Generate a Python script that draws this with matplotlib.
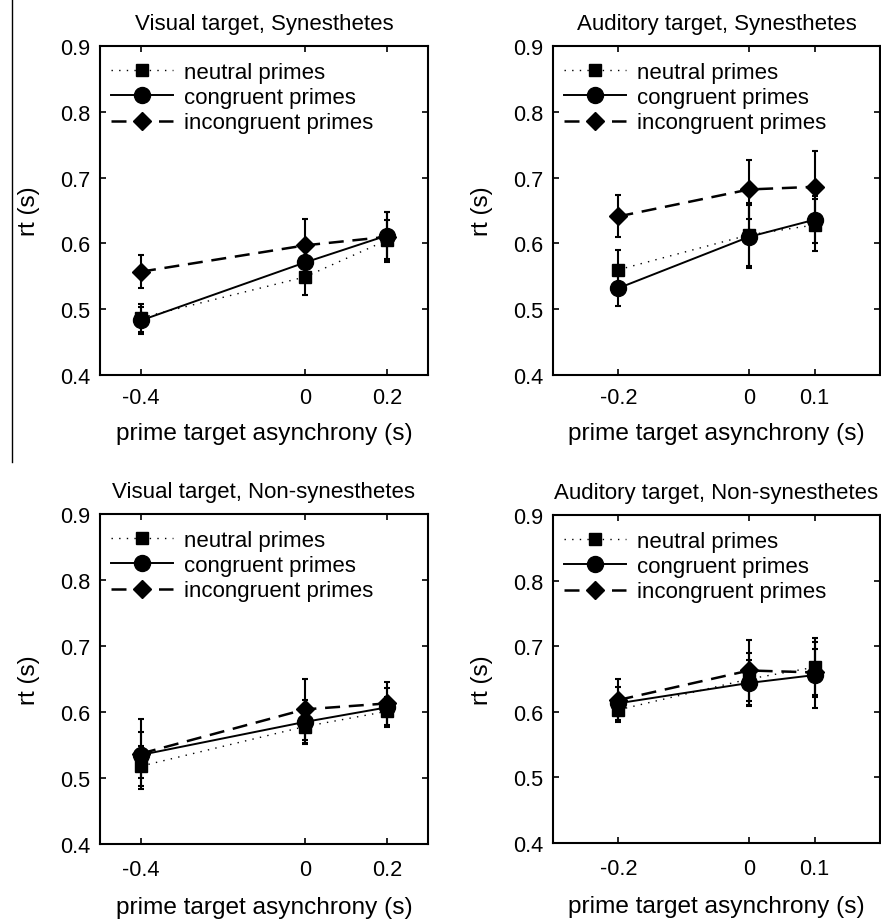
import numpy as np
import matplotlib
matplotlib.use('Agg')
import matplotlib.pyplot as plt
from matplotlib.lines import Line2D

plt.rcParams['font.family'] = ['Liberation Sans', 'DejaVu Sans']

# panel titles
titles = ['Visual target, Synesthetes', 'Auditory target, Synesthetes',
          'Visual target, Non-synesthetes', 'Auditory target, Non-synesthetes']
series_names = ['neutral primes', 'congruent primes', 'incongruent primes']

# x positions (prime target asynchrony, s)
x_visual = [-0.4, 0.0, 0.2]
x_auditory = [-0.2, 0.0, 0.1]

# mean rt (s) per panel: neutral, congruent, incongruent
vis_syn_mean = [[0.487, 0.549, 0.605],
                [0.483, 0.571, 0.612],
                [0.557, 0.597, 0.610]]
vis_syn_err = [[0.021, 0.028, 0.030],
               [0.020, 0.030, 0.036],
               [0.025, 0.040, 0.038]]

aud_syn_mean = [[0.560, 0.613, 0.628],
                [0.532, 0.610, 0.636],
                [0.641, 0.682, 0.686]]
aud_syn_err = [[0.030, 0.048, 0.040],
               [0.027, 0.048, 0.036],
               [0.032, 0.045, 0.054]]

vis_non_mean = [[0.518, 0.578, 0.601],
                [0.535, 0.585, 0.607],
                [0.537, 0.604, 0.613]]
vis_non_err = [[0.030, 0.025, 0.022],
               [0.035, 0.033, 0.030],
               [0.053, 0.046, 0.033]]

aud_non_mean = [[0.603, 0.650, 0.668],
                [0.613, 0.644, 0.656],
                [0.618, 0.663, 0.660]]
aud_non_err = [[0.018, 0.040, 0.045],
               [0.025, 0.035, 0.050],
               [0.032, 0.046, 0.035]]

panels = [(x_visual, vis_syn_mean, vis_syn_err, (-0.5, 0.3)),
          (x_auditory, aud_syn_mean, aud_syn_err, (-0.3, 0.2)),
          (x_visual, vis_non_mean, vis_non_err, (-0.5, 0.3)),
          (x_auditory, aud_non_mean, aud_non_err, (-0.3, 0.2))]

styles = [dict(marker='s', ms=9, lw=1.0, dashes=(1, 4.5)),
          dict(marker='o', ms=11.5, lw=1.4, ls='-'),
          dict(marker='D', ms=9.5, lw=1.8, dashes=(6, 3.5))]

fig = plt.figure(figsize=(8.81, 9.2), dpi=100)

rects = [[100/881, 1-376/920, 328/881, 329/920],
         [553/881, 1-376/920, 327/881, 329/920],
         [100/881, 1-845/920, 328/881, 330/920],
         [553/881, 1-844/920, 327/881, 328/920]]

for i, (xs, means, errs, xlim) in enumerate(panels):
    ax = fig.add_axes(rects[i])
    bottom_row = i >= 2
    for j in range(3):
        st = dict(styles[j])
        ax.errorbar(xs, means[j], yerr=errs[j], color='black', ecolor='black',
                    elinewidth=1.5, capsize=2, capthick=1.5,
                    label=series_names[j], **st)
    ax.set_xlim(xlim)
    ax.set_ylim(0.4, 0.9)
    ax.set_xticks(xs)
    ax.set_xticklabels(['%g' % v for v in xs])
    ax.set_yticks([0.4, 0.5, 0.6, 0.7, 0.8, 0.9])
    ax.tick_params(direction='in', top=True, right=True, labelsize=15.7,
                   length=4, width=1.2)
    ax.tick_params(axis='x', pad=10.5 if bottom_row else 9)
    ax.tick_params(axis='y', pad=7)
    for sp in ax.spines.values():
        sp.set_linewidth(1.5)
    ax.set_title(titles[i], fontsize=16, pad=12.5)
    ax.set_xlabel('prime target asynchrony (s)', fontsize=17.6,
                  labelpad=12 if bottom_row else 10)
    ax.set_ylabel('rt (s)', fontsize=17.5, labelpad=14.5)
    handles, labels = ax.get_legend_handles_labels()
    handles = [h[0] for h in handles]
    ax.legend(handles, labels, loc='upper left', bbox_to_anchor=(-0.015, 1.0),
              frameon=False, fontsize=16,
              handlelength=2.8, handletextpad=0.5, labelspacing=0.2,
              borderaxespad=0.3, numpoints=1)

# thin vertical rule at the left edge of the upper half
fig.add_artist(Line2D([12/881, 12/881], [1-463/920, 1.0], color='black', lw=1))

fig.savefig('out.png', dpi=100)
